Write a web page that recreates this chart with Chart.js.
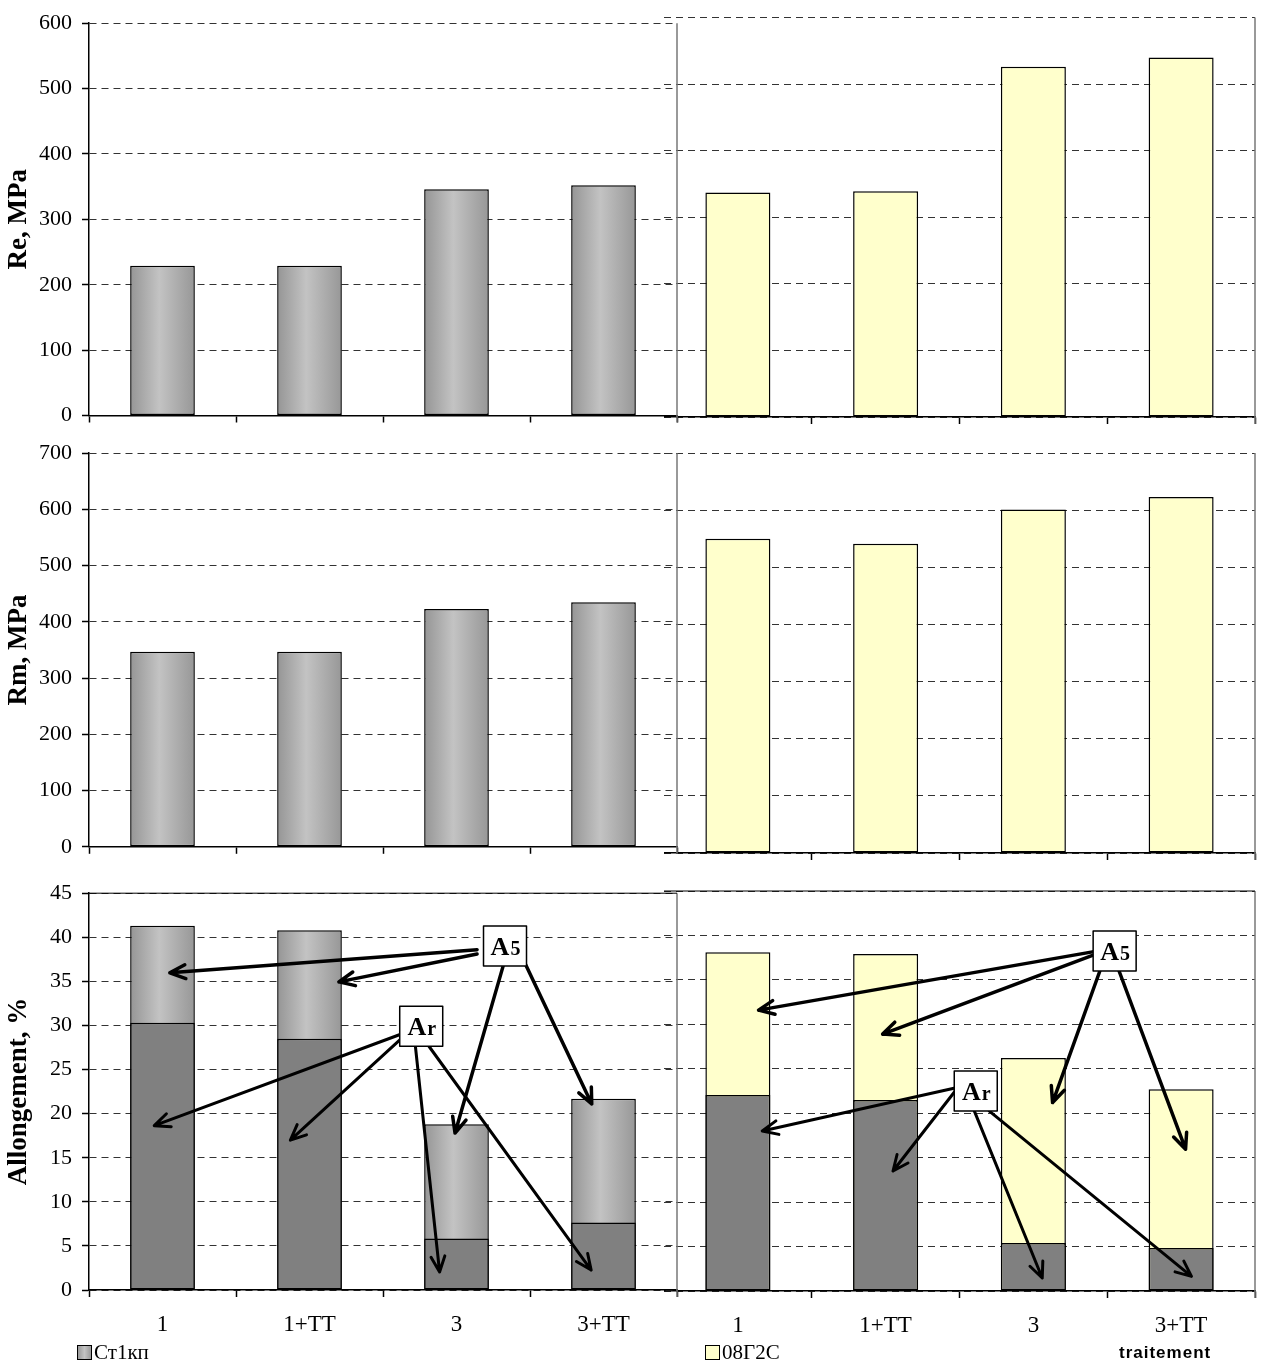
<!DOCTYPE html>
<html>
<head>
<meta charset="utf-8">
<script src="https://cdn.jsdelivr.net/npm/chart.js@4.4.0/dist/chart.umd.min.js"></script>
<style>
  body { margin:0; background:#fff; width:1271px; height:1365px; position:relative; overflow:hidden; font-family:'Liberation Serif', serif; }
  canvas { position:absolute; }
  .leg { position:absolute; font-size:21px; line-height:21px; color:#000; white-space:nowrap; }
  .sw { display:inline-block; width:13px; height:13px; border:1px solid #000; margin-right:2px; vertical-align:-1px; }
  .trt { position:absolute; font-family:'Liberation Sans', sans-serif; font-weight:bold; font-size:17px; letter-spacing:1px; }
</style>
</head>
<body>
<canvas id="g1" width="594" height="440" style="left:664px;top:0"></canvas>
<canvas id="g2" width="594" height="440" style="left:664px;top:430px"></canvas>
<canvas id="g3" width="594" height="495" style="left:664px;top:870px"></canvas>
<canvas id="s1" width="680" height="440" style="left:0;top:0"></canvas>
<canvas id="s2" width="680" height="440" style="left:0;top:430px"></canvas>
<canvas id="s3" width="680" height="495" style="left:0;top:870px"></canvas>

<div class="leg" style="left:77px;top:1342px"><span class="sw" style="background:linear-gradient(90deg,#999,#c4c4c4,#999)"></span>Ст1кп</div>
<div class="leg" style="left:705px;top:1342px"><span class="sw" style="background:#ffffcc"></span>08Г2С</div>
<div class="trt" style="left:1119px;top:1343px">traitement</div>

<script>
// treatments
var categories = ['1', '1+TT', '3', '3+TT'];

// Ст1кп
var reSt = [229, 229, 346, 352];
var rmSt = [347, 347, 423, 435];
var a5St = [41.3, 40.8, 18.8, 21.7];
var arSt = [30.3, 28.5, 5.85, 7.65];

// 08Г2С
var re08 = [337, 339, 526, 540];
var rm08 = [550, 541, 601, 623];
var a508 = [38.1, 37.9, 26.2, 22.7];
var ar08 = [22.05, 21.5, 5.4, 4.85];

// axis maxima / steps
var reMax = 600, reStep = 100;
var rmMax = 700, rmStep = 100;
var aMax = 45, aStep = 5;

// labelled arrows, in data units [fromX, fromY, toX, toY] (x = category index)
var stA5Box = [2.33, 39.0];
var stA5Arrows = [[2.14, 38.6, 0.05, 35.97], [2.14, 38.1, 1.20, 34.94], [2.32, 36.9, 1.99, 17.8], [2.47, 36.9, 2.92, 21.1]];
var stArBox = [1.76, 29.9];
var stArArrows = [[1.63, 29.06, -0.056, 18.64], [1.65, 28.9, 0.87, 16.99], [1.72, 27.7, 1.885, 2.04], [1.81, 27.7, 2.916, 2.26]];
var gA5Box = [2.55, 38.25];
var gA5Arrows = [[2.40, 38.15, 0.14, 31.6], [2.40, 37.77, 0.98, 28.9], [2.45, 36.0, 2.13, 21.2], [2.58, 36.0, 3.03, 15.95]];
var gArBox = [1.61, 22.5];
var gArArrows = [[1.47, 22.84, 0.165, 18.0], [1.48, 22.7, 1.05, 13.5], [1.60, 20.27, 2.06, 1.46], [1.70, 20.27, 3.07, 1.65]];

Chart.defaults.font.family = "'Liberation Serif', serif";
Chart.defaults.font.size = 22;
Chart.defaults.color = '#000';

var BAR_PCT = 0.44;
var YELLOW = '#ffffcc';
var DARK = '#808080';

function grayFill(c) {
    var chart = c.chart;
    if (!chart.chartArea || c.type !== 'data') return '#b0b0b0';
    var xs = chart.scales.x;
    var x = xs.getPixelForValue(c.dataIndex);
    var half = xs.width / categories.length * BAR_PCT / 2;
    var g = chart.ctx.createLinearGradient(x - half, 0, x + half, 0);
    g.addColorStop(0, '#959595');
    g.addColorStop(0.45, '#c3c3c3');
    g.addColorStop(1, '#979797');
    return g;
}

// right frame line + optional solid top
var framePlugin = {
    id: 'frame',
    afterDraw: function (chart, args, opts) {
        var a = chart.chartArea, ctx = chart.ctx;
        ctx.save();
        ctx.strokeStyle = '#777';
        ctx.lineWidth = 1.5;
        ctx.beginPath();
        ctx.moveTo(a.right, a.top);
        ctx.lineTo(a.right, a.bottom + 7);
        ctx.stroke();
        if (opts.topSolid) {
            ctx.strokeStyle = '#000';
            ctx.lineWidth = 1;
            ctx.beginPath();
            ctx.moveTo(a.left, a.top);
            ctx.lineTo(a.right, a.top);
            ctx.stroke();
        }
        ctx.restore();
    }
};

function arrow(ctx, x1, y1, x2, y2) {
    var ang = Math.atan2(y2 - y1, x2 - x1);
    var L = 17, w = 0.42;
    ctx.beginPath();
    ctx.moveTo(x1, y1);
    ctx.lineTo(x2, y2);
    ctx.moveTo(x2 - L * Math.cos(ang - w), y2 - L * Math.sin(ang - w));
    ctx.lineTo(x2, y2);
    ctx.lineTo(x2 - L * Math.cos(ang + w), y2 - L * Math.sin(ang + w));
    ctx.stroke();
}

function labelBox(ctx, cx, cy, main, sub) {
    var w = 43, h = 40;
    ctx.fillStyle = '#fff';
    ctx.fillRect(cx - w / 2, cy - h / 2, w, h);
    ctx.strokeStyle = '#000';
    ctx.lineWidth = 1.5;
    ctx.strokeRect(cx - w / 2, cy - h / 2, w, h);
    ctx.fillStyle = '#000';
    ctx.textBaseline = 'alphabetic';
    ctx.font = "bold 26px 'Liberation Serif'";
    var w1 = ctx.measureText(main).width;
    ctx.font = "bold 20px 'Liberation Serif'";
    var w2 = ctx.measureText(sub).width;
    var x0 = cx - (w1 + w2) / 2;
    ctx.font = "bold 26px 'Liberation Serif'";
    ctx.fillText(main, x0, cy + 9);
    ctx.font = "bold 20px 'Liberation Serif'";
    ctx.fillText(sub, x0 + w1 + 1, cy + 9);
}

var notePlugin = {
    id: 'notes',
    afterDatasetsDraw: function (chart, args, opts) {
        if (!opts.groups) return;
        var xs = chart.scales.x, ys = chart.scales.y, ctx = chart.ctx;
        ctx.save();
        ctx.strokeStyle = '#000';
        ctx.lineCap = 'round';
        ctx.lineJoin = 'round';
        opts.groups.forEach(function (g) {
            ctx.lineWidth = g.lw;
            g.arrows.forEach(function (r) {
                arrow(ctx, xs.getPixelForValue(r[0]), ys.getPixelForValue(r[1]),
                    xs.getPixelForValue(r[2]), ys.getPixelForValue(r[3]));
            });
        });
        opts.groups.forEach(function (g) {
            labelBox(ctx, xs.getPixelForValue(g.box[0]), ys.getPixelForValue(g.box[1]), g.main, g.sub);
        });
        ctx.restore();
    }
};

function makeChart(id, cfg) {
    var left = cfg.side === 'left';
    var datasets = cfg.series.map(function (s) {
        return {
            data: s.data,
            backgroundColor: s.color,
            borderColor: '#000',
            borderWidth: 1.5,
            borderSkipped: false,
            grouped: false,
            categoryPercentage: 1,
            barPercentage: BAR_PCT
        };
    });
    return new Chart(document.getElementById(id), {
        type: 'bar',
        data: { labels: categories, datasets: datasets },
        plugins: [framePlugin, notePlugin],
        options: {
            responsive: false,
            animation: false,
            layout: { padding: { top: cfg.top, right: 3, left: 0, bottom: 0 } },
            plugins: {
                legend: { display: false },
                tooltip: { enabled: false },
                frame: { topSolid: !!cfg.topSolid },
                notes: { groups: cfg.notes || null }
            },
            scales: {
                x: {
                    offset: true,
                    grid: {
                        offset: true, drawOnChartArea: false, drawTicks: true, tickLength: 7,
                        tickColor: function (c) { return (!left && c.index === 0) ? 'rgba(0,0,0,0)' : '#000'; },
                        tickWidth: 1.5
                    },
                    border: { color: '#000', width: 1.5 },
                    ticks: { display: !!cfg.showLabels, padding: 14, maxRotation: 0, font: { size: 23 } },
                    afterFit: function (s) { s.height = cfg.xh; }
                },
                y: {
                    min: 0, max: cfg.max,
                    ticks: { display: left, stepSize: cfg.step, padding: 10, font: { size: 22 } },
                    grid: { color: '#333', lineWidth: 1, drawTicks: left, tickLength: 7, tickColor: '#000', tickWidth: 1.5 },
                    border: { display: left, color: '#000', width: 1.5, dash: [7, 5] },
                    title: {
                        display: left, text: cfg.title || '',
                        font: { size: 27, weight: 'bold' }, padding: { top: 3, bottom: 0 }
                    },
                    afterFit: function (s) { s.width = left ? 89 : 0; }
                }
            }
        }
    });
}

makeChart('s1', { side: 'left', top: 18, xh: 24.5, max: reMax, step: reStep, title: 'Re, MPa',
    series: [{ data: reSt, color: grayFill }] });
makeChart('s2', { side: 'left', top: 23, xh: 18, max: rmMax, step: rmStep, title: 'Rm, MPa',
    series: [{ data: rmSt, color: grayFill }] });
makeChart('s3', { side: 'left', top: 21, xh: 75, max: aMax, step: aStep, title: 'Allongement, %',
    showLabels: true, topSolid: true,
    series: [{ data: arSt, color: DARK }, { data: a5St, color: grayFill }],
    notes: [{ box: stA5Box, arrows: stA5Arrows, main: 'A', sub: '5', lw: 3.5 },
            { box: stArBox, arrows: stArArrows, main: 'A', sub: 'r', lw: 3 }] });

makeChart('g1', { side: 'right', top: 17.5, xh: 23, max: reMax, step: reStep,
    series: [{ data: re08, color: YELLOW }] });
makeChart('g2', { side: 'right', top: 23, xh: 17, max: rmMax, step: rmStep,
    series: [{ data: rm08, color: YELLOW }] });
makeChart('g3', { side: 'right', top: 21, xh: 74, max: aMax, step: aStep,
    showLabels: true, topSolid: true,
    series: [{ data: ar08, color: DARK }, { data: a508, color: YELLOW }],
    notes: [{ box: gA5Box, arrows: gA5Arrows, main: 'A', sub: '5', lw: 3.5 },
            { box: gArBox, arrows: gArArrows, main: 'A', sub: 'r', lw: 3 }] });
</script>
</body>
</html>
